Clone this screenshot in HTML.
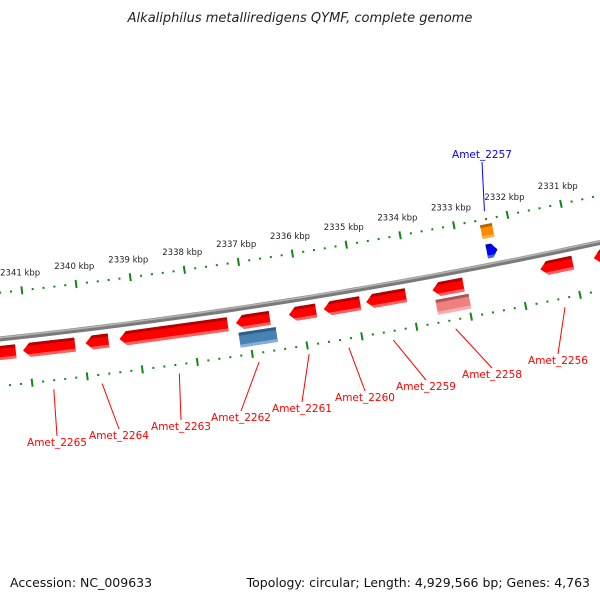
<!DOCTYPE html>
<html><head><meta charset="utf-8"><style>
html,body{margin:0;padding:0;background:#fff;}
svg{display:block;font-family:"DejaVu Sans","Liberation Sans",sans-serif;}
</style></head><body>
<svg id="chart" width="600" height="600" viewBox="0 0 600 600" xmlns="http://www.w3.org/2000/svg">
<text x="300" y="22" text-anchor="middle" font-size="13" font-style="italic" fill="#222">Alkaliphilus metalliredigens QYMF, complete genome</text>
<g id="rings"></g>
<g id="genes"></g>
<g id="labels"></g>
<text x="10" y="587" font-size="12.5" fill="#111">Accession: NC_009633</text>
<text x="590" y="587" text-anchor="end" font-size="12.5" fill="#111">Topology: circular; Length: 4,929,566 bp; Genes: 4,763</text>
</svg>
<script>
// ---- data ----
const tickLabels = [2341,2340,2339,2338,2337,2336,2335,2334,2333,2332,2331];
const geneNames = ["Amet_2266","Amet_2265","Amet_2264","Amet_2263","Amet_2262","Amet_2261","Amet_2260","Amet_2259","Amet_2258","Amet_2257","Amet_2256","Amet_2255"];
const geneStart = [2341.23,2340.15,2339.54,2337.36,2336.59,2335.74,2334.93,2334.09,2333.03,2332.30,2331.01,2330.05];
const geneEnd   = [2341.89,2341.10,2339.96,2339.34,2337.21,2336.24,2335.60,2334.82,2333.60,2332.50,2331.61,2330.62];
const geneDir   = [1,1,1,1,1,1,1,1,1,-1,1,1];
const featName  = ["Amet_2262","Amet_2258","Amet_2257"];
const featStart = [2336.51,2332.97,2332.31];
const featEnd   = [2337.19,2333.58,2332.53];

// ---- geometry ----
const CX=-604, CY=-5335, R0=5706, RT1=5660, RT2=5753;
const A0=1.4600, K=0.00965;
function ang(kbp){return A0-K*(2341-kbp);}
function P(kbp,r){const a=ang(kbp);return [CX+r*Math.cos(a),CY+r*Math.sin(a)];}
const NS="http://www.w3.org/2000/svg";
function mk(tag,attrs,parent){const e=document.createElementNS(NS,tag);for(const k in attrs)e.setAttribute(k,attrs[k]);parent.appendChild(e);return e;}
function pts(list){return list.map(p=>p[0].toFixed(2)+","+p[1].toFixed(2)).join(" ");}
function arcPts(r){const a=[];for(let k=2343;k>=2329;k-=0.25)a.push(P(k,r));return pts(a);}

const rings=document.getElementById('rings');
// backbone
let bb=mk('polyline',{points:arcPts(R0),fill:'none',stroke:'#7a7a7a','stroke-width':5},rings);


let bb2=mk('polyline',{points:arcPts(R0-1.3),fill:'none',stroke:'#b5b5b5','stroke-width':1.5},rings);



// ticks
[RT1,RT2].forEach((R,ri)=>{
  const g=mk('g',{},rings);
  
  
  for(let i=0;i<=62;i++){
    const kbp=2342.2-i*0.2;
    const major=Math.abs(kbp-Math.round(kbp))<0.01;
    const h=major?4:1;
    const a=P(kbp,R-h),b=P(kbp,R+h);
    const t=mk('line',{x1:a[0],y1:a[1],x2:b[0],y2:b[1],stroke:'#118811','stroke-width':2},g);
    
    
  }
});
tickLabels.forEach(k=>{
  const p=P(k,RT1-15);
  const t=mk('text',{x:p[0],y:p[1],'text-anchor':'middle','font-size':8.5,fill:'#222'},rings);
  t.textContent=k+" kbp";
  
  
});

// genes
const genes=document.getElementById('genes');
function arrow(g,s,e,dir,r1,r2,cols,tipLen){
  // dir=1 tip at high kbp end (left), -1 tip at low kbp end (right)
  const tip=dir===1?e:s, base=dir===1?s:e;
  const tl=Math.min(tipLen,(e-s)*0.6);
  const tb=tip-dir*tl;
  const rm=(r1+r2)/2;
  const main=[P(base,r1),P(tb,r1),P(tip,rm),P(tb,r2),P(base,r2)];
  mk('polygon',{points:pts(main),fill:cols[0]},g);
  const d=(r2-r1)*0.2;
  mk('polygon',{points:pts([P(base,r1),P(tb,r1),P(tip-dir*tl*(1-0.2*2),r1+d),P(base,r1+d)]),fill:cols[1]},g);
  mk('polygon',{points:pts([P(base,r2-d),P(tip-dir*tl*(1-0.2*2),r2-d),P(tb,r2),P(base,r2)]),fill:cols[2]},g);
}
function box(g,s,e,r1,r2,cols){
  mk('polygon',{points:pts([P(s,r1),P(e,r1),P(e,r2),P(s,r2)]),fill:cols[0]},g);
  const d=(r2-r1)*0.2;
  mk('polygon',{points:pts([P(s,r1),P(e,r1),P(e,r1+d),P(s,r1+d)]),fill:cols[1]},g);
  mk('polygon',{points:pts([P(s,r2-d),P(e,r2-d),P(e,r2),P(s,r2)]),fill:cols[2]},g);
}
geneNames.forEach((n,i)=>{
  const g=mk('g',{},genes);
  
  
  if(n==="Amet_2257"){
    arrow(g,geneStart[i],geneEnd[i],geneDir[i],R0-21,R0-7,['#0000ff','#0000b0','#4466ff'],0.1);
  } else {
    arrow(g,geneStart[i],geneEnd[i],geneDir[i],R0+7,R0+21,['#ff0000','#b30000','#ff6060'],0.13);
  }
});
featName.forEach((n,i)=>{
  const g=mk('g',{},genes);
  
  
  if(n==="Amet_2262") box(g,featStart[i],featEnd[i],R0+24,R0+39,['#4682b4','#2f5f88','#86aed6']);
  else if(n==="Amet_2258") box(g,featStart[i],featEnd[i],R0+24,R0+39,['#f08080','#a85858','#f6b0b0']);
  else box(g,featStart[i],featEnd[i],R0-41,R0-27,['#ff8c00','#b86200','#ffb050']);
});

// gene labels (layout positions)
const labelPos={
 "Amet_2265":[57,446],"Amet_2264":[119,439],"Amet_2263":[181,430],"Amet_2262":[241,421],
 "Amet_2261":[302,412],"Amet_2260":[365,401],"Amet_2259":[426,390],"Amet_2258":[492,378],
 "Amet_2256":[558,364],"Amet_2257":[482,158]};
const labels=document.getElementById('labels');
geneNames.forEach((n,i)=>{
  if(!labelPos[n])return;
  const mid=(geneStart[i]+geneEnd[i])/2;
  const blue=n==="Amet_2257";
  const col=blue?'#0000ff':'#ff0000';
  const sp=blue?P(mid,RT1-8):P(mid,RT2+9);
  const lp=labelPos[n];
  const ey=blue?lp[1]+4:lp[1]-10;
  const ln=mk('line',{x1:sp[0],y1:sp[1],x2:lp[0],y2:ey,stroke:col,'stroke-width':1},labels);
  
  
  const t=mk('text',{x:lp[0],y:lp[1],'text-anchor':'middle','font-size':10.5,fill:col},labels);
  t.textContent=n;
  
  
});
</script>
</body></html>
